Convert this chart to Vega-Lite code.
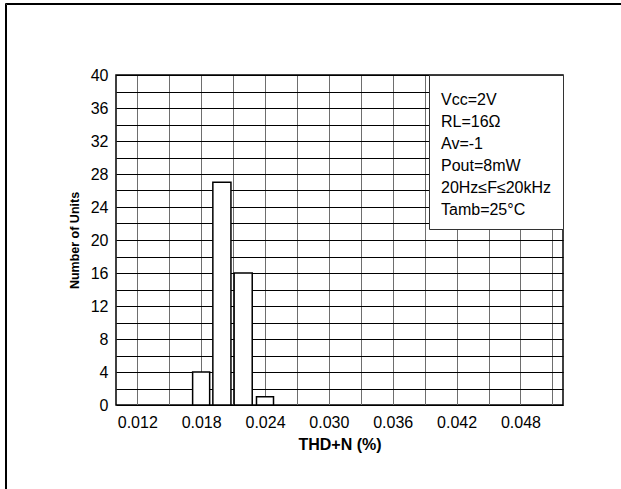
{
  "$schema": "https://vega.github.io/schema/vega-lite/v6.json",
  "autosize": {"type": "none"},
  "width": 447,
  "height": 330,
  "padding": {"left": 116, "top": 75, "right": 58, "bottom": 84},
  "background": "white",
  "datasets": {
    "bars": [
      {"lo": 0.0172, "hi": 0.0188, "count": 4},
      {"lo": 0.0191, "hi": 0.0208, "count": 27},
      {"lo": 0.0211, "hi": 0.0228, "count": 16},
      {"lo": 0.0232, "hi": 0.0248, "count": 1}
    ],
    "notes": [
      {"note": "Vcc=2V"},
      {"note": "RL=16Ω"},
      {"note": "Av=-1"},
      {"note": "Pout=8mW"},
      {"note": "20Hz≤F≤20kHz"},
      {"note": "Tamb=25°C"}
    ],
    "frame": [{"frame": "outer", "frame2": "inner"}]
  },
  "layer": [
    {
      "data": {"name": "bars"},
      "mark": {"type": "rect", "fill": "white", "stroke": "black", "strokeWidth": 1.5, "opacity": 1},
      "encoding": {
        "x": {
          "field": "lo", "type": "quantitative",
          "scale": {"domain": [0.010, 0.052], "nice": false, "zero": false},
          "axis": {
            "values": [0.012, 0.015, 0.018, 0.021, 0.024, 0.027, 0.030, 0.033, 0.036, 0.039, 0.042, 0.045, 0.048, 0.051],
            "labelExpr": "round(datum.value * 1000) % 6 == 0 ? format(datum.value, '.3f') : ''",
            "labelFlush": false, "labelOverlap": false,
            "grid": true, "gridColor": "#6e6e6e", "gridWidth": 1, "gridOpacity": 1,
            "ticks": false, "domain": false,
            "labelFontSize": 16, "labelColor": "black", "labelPadding": 9,
            "title": "THD+N (%)", "titleFontSize": 16, "titleFontWeight": "bold", "titleColor": "black", "titlePadding": 6
          }
        },
        "x2": {"field": "hi"},
        "y": {
          "field": "count", "type": "quantitative",
          "scale": {"domain": [0, 40], "nice": false},
          "axis": {
            "values": [0, 2, 4, 6, 8, 10, 12, 14, 16, 18, 20, 22, 24, 26, 28, 30, 32, 34, 36, 38, 40],
            "labelExpr": "datum.value % 4 == 0 ? datum.label : ''",
            "labelFlush": false, "labelOverlap": false,
            "grid": true, "gridColor": "black", "gridWidth": 1, "gridOpacity": 1,
            "ticks": false, "domain": false,
            "labelFontSize": 16, "labelColor": "black", "labelPadding": 8,
            "title": "Number of Units", "titleFontSize": 12.5, "titleFontWeight": "bold", "titleColor": "black", "titlePadding": 9
          }
        },
        "y2": {"datum": 0}
      }
    },
    {
      "data": {"name": "notes"},
      "mark": {"type": "point", "opacity": 0},
      "encoding": {
        "color": {
          "field": "note", "type": "nominal",
          "scale": {"domain": ["Vcc=2V", "RL=16Ω", "Av=-1", "Pout=8mW", "20Hz≤F≤20kHz", "Tamb=25°C"], "range": ["black", "black", "black", "black", "black", "black"]},
          "legend": {
            "orient": "top-right", "offset": 0, "padding": 11,
            "fillColor": "white", "strokeColor": "#333333",
            "title": " ", "titleFontSize": 4, "titlePadding": 2,
            "labelFontSize": 16, "labelColor": "black", "labelOffset": -15, "labelLimit": 200,
            "rowPadding": 6, "symbolSize": 0.1, "symbolOpacity": 0, "symbolStrokeWidth": 0
          }
        }
      }
    },
    {
      "data": {"name": "frame"},
      "mark": {"type": "point", "opacity": 0},
      "encoding": {
        "shape": {
          "field": "frame", "type": "nominal",
          "legend": {
            "orient": "none", "legendX": -111, "legendY": -72, "padding": 700,
            "strokeColor": "black",
            "title": null, "labelExpr": "''", "labelOpacity": 0, "symbolOpacity": 0, "symbolSize": 0.1
          }
        },
        "strokeDash": {
          "field": "frame2", "type": "nominal",
          "legend": {
            "orient": "none", "legendX": -110, "legendY": -71, "padding": 700,
            "strokeColor": "black",
            "title": null, "labelExpr": "''", "labelOpacity": 0, "symbolOpacity": 0, "symbolSize": 0.1
          }
        }
      }
    }
  ],
  "config": {
    "font": "Liberation Sans",
    "view": {"stroke": "black", "strokeWidth": 1.5}
  }
}
